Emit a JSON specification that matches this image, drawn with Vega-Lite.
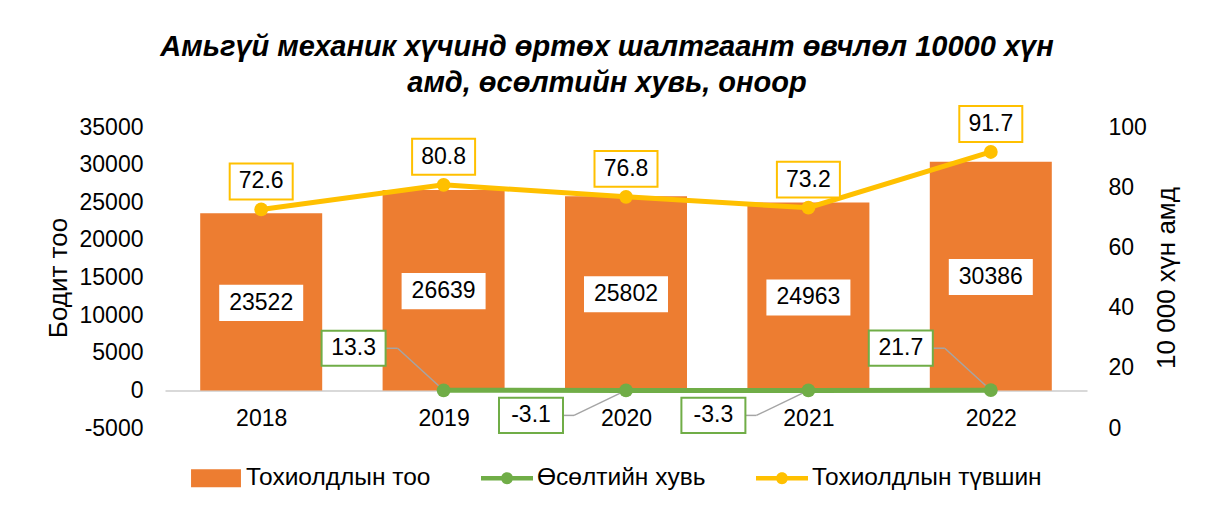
{
  "$schema": "https://vega.github.io/schema/vega-lite/v6.json",
  "autosize": "none",
  "width": 922,
  "height": 301,
  "padding": {"left": 165, "top": 127, "right": 126, "bottom": 83},
  "background": "white",
  "config": {
    "view": {"stroke": null},
    "font": "Liberation Sans",
    "axis": {"labelFont": "Liberation Sans", "titleFont": "Liberation Sans", "labelFontSize": 23, "titleFontSize": 26, "labelColor": "#000000", "titleColor": "#000000", "titleFontWeight": "normal", "grid": false, "ticks": false, "tickSize": 0}
  },
  "title": {
    "text": ["Амьгүй механик хүчинд өртөх шалтгаант өвчлөл 10000 хүн", "амд, өсөлтийн хувь, оноор"],
    "font": "Liberation Sans",
    "fontSize": 29,
    "fontWeight": "bold",
    "fontStyle": "italic",
    "color": "#000000",
    "lineHeight": 36,
    "anchor": "middle",
    "dx": -19,
    "offset": 4
  },
  "data": {
    "values": [
      {"year": 2018, "count": 23522, "rate": 72.6, "growth": null},
      {"year": 2019, "count": 26639, "rate": 80.8, "growth": 13.3},
      {"year": 2020, "count": 25802, "rate": 76.8, "growth": -3.1},
      {"year": 2021, "count": 24963, "rate": 73.2, "growth": -3.3},
      {"year": 2022, "count": 30386, "rate": 91.7, "growth": 21.7}
    ]
  },
  "encoding": {
    "x": {
      "field": "year", "type": "quantitative",
      "scale": {"domain": [2017.5, 2022.5], "nice": false, "zero": false},
      "axis": {"values": [2018, 2019, 2020, 2021, 2022], "labelExpr": "'' + datum.value", "title": null, "offset": -37.6, "domain": true, "domainColor": "#D9D9D9", "domainWidth": 2, "labelPadding": 17}
    }
  },
  "layer": [
    {
      "encoding": {
        "y": {
          "type": "quantitative",
          "scale": {"domain": [-5000, 35000], "nice": false},
          "axis": {"values": [-5000, 0, 5000, 10000, 15000, 20000, 25000, 30000, 35000], "labelExpr": "'' + datum.value", "title": "Бодит тоо", "domain": false, "labelPadding": 22, "titlePadding": 8}
        }
      },
      "layer": [
        {
          "mark": {"type": "bar", "size": 122, "color": "#ED7D31"},
          "encoding": {
            "y": {"field": "count", "type": "quantitative"},
            "color": {
              "datum": "Тохиолдлын тоо",
              "scale": {"domain": ["Тохиолдлын тоо", "Өсөлтийн хувь", "Тохиолдлын түвшин"], "range": ["#ED7D31", "#70AD47", "#FFC000"]},
              "legend": {
                "title": null, "orient": "none", "direction": "horizontal",
                "legendX": 25, "legendY": 325,
                "labelFont": "Liberation Sans", "labelFontSize": 24.5, "labelColor": "#000000", "labelLimit": 500,
                "symbolSize": 2704, "symbolStrokeWidth": 0, "columnPadding": 50, "labelOffset": 4,
                "encode": {
                  "symbols": {
                    "update": {
                      "shape": {"signal": "datum.label === 'Тохиолдлын тоо' ? 'M-0.96,-0.35H0.96V0.35H-0.96Z' : 'M-1,-0.09H1V0.09H-1Z M-0.23,0 A0.23,0.23 0 1,1 0.23,0 A0.23,0.23 0 1,1 -0.23,0 Z'"},
                      "strokeWidth": {"value": 0},
                      "opacity": {"value": 1}
                    }
                  }
                }
              }
            }
          }
        },
        {
          "transform": [{"filter": "isValid(datum.growth)"}],
          "mark": {"type": "line", "strokeWidth": 5, "color": "#70AD47"},
          "encoding": {
            "y": {"field": "growth", "type": "quantitative"},
            "color": {"datum": "Өсөлтийн хувь"}
          }
        },
        {
          "transform": [{"filter": "datum.growth > 0"}],
          "mark": {"type": "rule", "color": "#A5A5A5", "strokeWidth": 1.5, "xOffset": -58, "x2Offset": -46, "yOffset": -42, "y2Offset": -42},
          "encoding": {"y": {"field": "growth", "type": "quantitative"}, "x2": {"field": "year"}, "y2": {"field": "growth"}}
        },
        {
          "transform": [{"filter": "datum.growth > 0"}],
          "mark": {"type": "rule", "color": "#A5A5A5", "strokeWidth": 1.5, "xOffset": -46, "x2Offset": 0, "yOffset": -42, "y2Offset": 0},
          "encoding": {"y": {"field": "growth", "type": "quantitative"}, "x2": {"field": "year"}, "y2": {"field": "growth"}}
        },
        {
          "transform": [{"filter": "datum.growth < 0"}],
          "mark": {"type": "rule", "color": "#A5A5A5", "strokeWidth": 1.5, "xOffset": -64, "x2Offset": -52, "yOffset": 25, "y2Offset": 25},
          "encoding": {"y": {"field": "growth", "type": "quantitative"}, "x2": {"field": "year"}, "y2": {"field": "growth"}}
        },
        {
          "transform": [{"filter": "datum.growth < 0"}],
          "mark": {"type": "rule", "color": "#A5A5A5", "strokeWidth": 1.5, "xOffset": -52, "x2Offset": 0, "yOffset": 25, "y2Offset": 0},
          "encoding": {"y": {"field": "growth", "type": "quantitative"}, "x2": {"field": "year"}, "y2": {"field": "growth"}}
        },
        {
          "transform": [{"filter": "isValid(datum.growth)"}],
          "mark": {"type": "point", "filled": true, "size": 190, "color": "#70AD47", "opacity": 1},
          "encoding": {"y": {"field": "growth", "type": "quantitative"}}
        },
        {
          "transform": [{"filter": "datum.growth > 0"}],
          "mark": {"type": "point", "shape": "M-1,-0.55H1V0.55H-1Z", "size": 4096, "filled": false, "fill": "white", "fillOpacity": 1, "stroke": "#70AD47", "strokeWidth": 2, "opacity": 1, "xOffset": -90, "yOffset": -42},
          "encoding": {"y": {"field": "growth", "type": "quantitative"}}
        },
        {
          "transform": [{"filter": "datum.growth > 0"}],
          "mark": {"type": "text", "font": "Liberation Sans", "fontSize": 23, "color": "#000000", "xOffset": -90, "yOffset": -42, "baseline": "middle"},
          "encoding": {"y": {"field": "growth", "type": "quantitative"}, "text": {"field": "growth", "type": "nominal"}}
        },
        {
          "transform": [{"filter": "datum.growth < 0"}],
          "mark": {"type": "point", "shape": "M-1,-0.55H1V0.55H-1Z", "size": 4096, "filled": false, "fill": "white", "fillOpacity": 1, "stroke": "#70AD47", "strokeWidth": 2, "opacity": 1, "xOffset": -95, "yOffset": 25},
          "encoding": {"y": {"field": "growth", "type": "quantitative"}}
        },
        {
          "transform": [{"filter": "datum.growth < 0"}],
          "mark": {"type": "text", "font": "Liberation Sans", "fontSize": 23, "color": "#000000", "xOffset": -95, "yOffset": 25, "baseline": "middle"},
          "encoding": {"y": {"field": "growth", "type": "quantitative"}, "text": {"field": "growth", "type": "nominal"}}
        }
      ]
    },
    {
      "encoding": {
        "y": {
          "type": "quantitative",
          "scale": {"domain": [0, 100], "nice": false},
          "axis": {"orient": "right", "values": [0, 20, 40, 60, 80, 100], "title": "10 000 хүн амд", "titleAngle": 270, "domain": false, "labelPadding": 21, "titlePadding": 33}
        }
      },
      "layer": [
        {
          "mark": {"type": "line", "strokeWidth": 5, "color": "#FFC000"},
          "encoding": {"y": {"field": "rate", "type": "quantitative"}, "color": {"datum": "Тохиолдлын түвшин"}}
        },
        {
          "mark": {"type": "point", "filled": true, "size": 190, "color": "#FFC000", "opacity": 1},
          "encoding": {"y": {"field": "rate", "type": "quantitative"}}
        },
        {
          "mark": {"type": "point", "shape": "M-1,-0.57H1V0.57H-1Z", "size": 3969, "filled": false, "fill": "white", "fillOpacity": 1, "stroke": "#FFC000", "strokeWidth": 2, "opacity": 1, "yOffset": -28},
          "encoding": {"y": {"field": "rate", "type": "quantitative"}}
        },
        {
          "mark": {"type": "text", "font": "Liberation Sans", "fontSize": 23, "color": "#000000", "yOffset": -28, "baseline": "middle"},
          "encoding": {"y": {"field": "rate", "type": "quantitative"}, "text": {"field": "rate", "type": "nominal"}}
        }
      ]
    },
    {
      "encoding": {
        "y": {
          "type": "quantitative",
          "scale": {"domain": [-10000, 70000], "nice": false},
          "axis": null
        }
      },
      "layer": [
        {
          "mark": {"type": "point", "shape": "M-1,-0.43H1V0.43H-1Z", "size": 7056, "filled": true, "color": "white", "opacity": 1, "yOffset": 1},
          "encoding": {"y": {"field": "count", "type": "quantitative"}}
        },
        {
          "mark": {"type": "text", "font": "Liberation Sans", "fontSize": 23, "color": "#000000", "yOffset": 1, "baseline": "middle"},
          "encoding": {"y": {"field": "count", "type": "quantitative"}, "text": {"field": "count", "type": "nominal"}}
        }
      ]
    }
  ],
  "resolve": {"scale": {"y": "independent"}, "axis": {"y": "independent"}}
}
